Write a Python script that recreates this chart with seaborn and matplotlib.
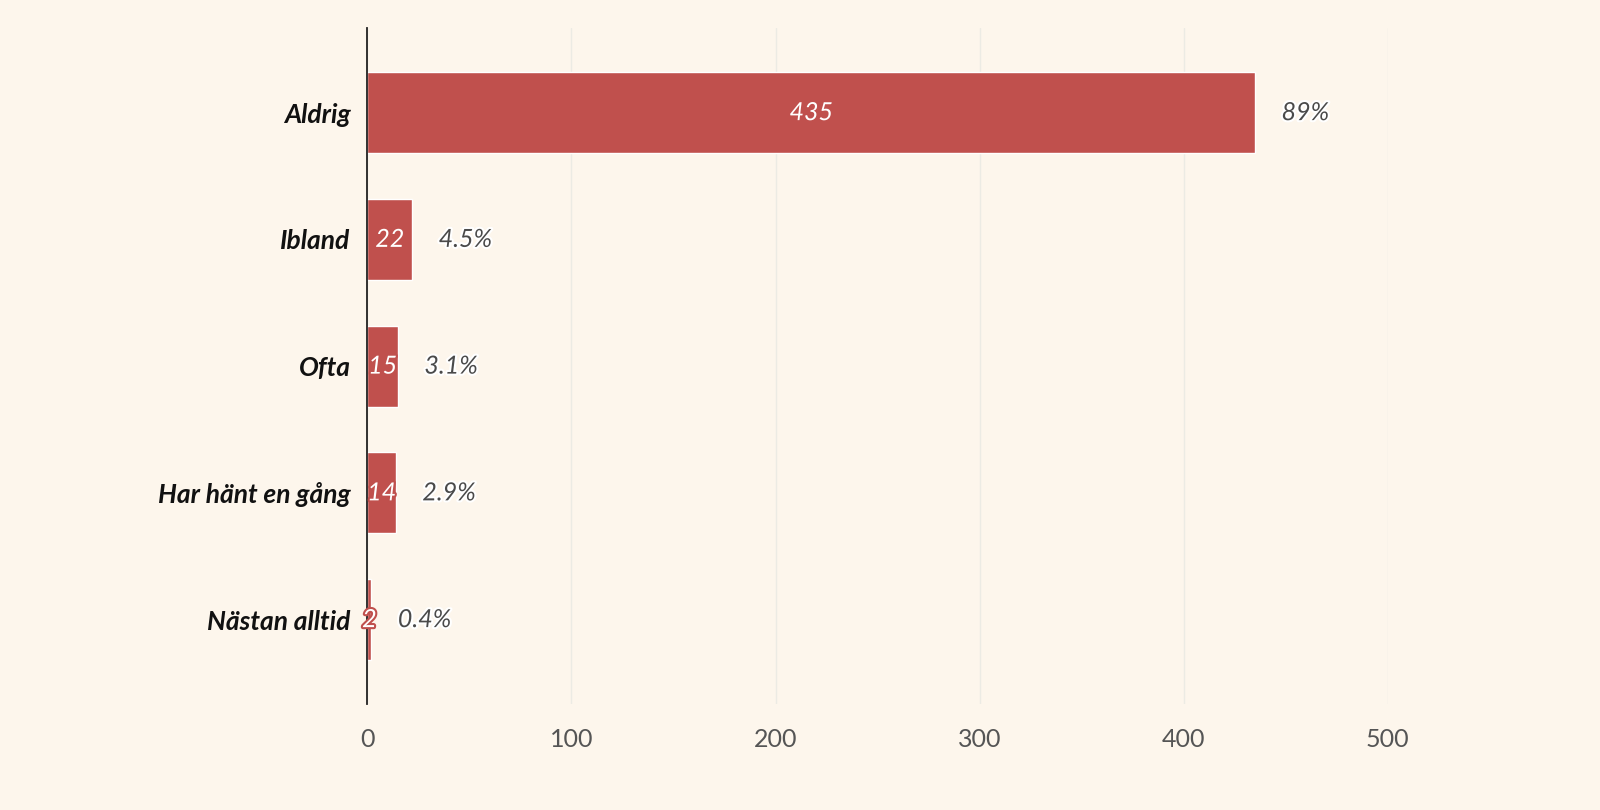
import numpy as np
import pandas as pd
import seaborn as sns
import matplotlib.pyplot as plt
import matplotlib.patheffects as pe

categories = ["Aldrig", "Ibland", "Ofta", "Har hänt en gång", "Nästan alltid"]
counts = [435, 22, 15, 14, 2]
pct_labels = ["89%", "4.5%", "3.1%", "2.9%", "0.4%"]

bg = "#FDF6EC"
bar_color = "#C0504D"

df = pd.DataFrame({"answer": categories, "count": counts})

sns.set_theme(style="white")
plt.rcParams['font.family'] = ['Lato', 'DejaVu Sans']

fig = plt.figure(figsize=(16, 8.1), dpi=100, facecolor=bg)
ax = fig.add_axes([0.2296, 0.131, 0.6378, 0.834])
ax.set_facecolor(bg)

sns.barplot(data=df, x="count", y="answer", color=bar_color, width=0.64,
            saturation=1, ax=ax, zorder=3)

ax.set_xlim(0, 500)
ax.set_ylim(len(categories) - 0.335, -0.665)
ax.set_xticks([0, 100, 200, 300, 400, 500])
ax.grid(axis="x", color="#ECEBE4", linewidth=1, zorder=0)
ax.set_xlabel("")
ax.set_ylabel("")
for s in ["top", "right", "bottom"]:
    ax.spines[s].set_visible(False)
ax.spines["left"].set_color("#222222")
ax.spines["left"].set_linewidth(1.3)
ax.spines["left"].set_zorder(5)
ax.tick_params(axis="both", length=0)
ax.tick_params(axis="x", labelsize=18, labelcolor="#555555", pad=17)
ax.tick_params(axis="y", pad=12)
for lab in ax.get_yticklabels():
    lab.set_fontsize(19)
    lab.set_fontweight("bold")
    lab.set_fontstyle("italic")
    lab.set_color("#111111")

for i, (v, p) in enumerate(zip(counts, pct_labels)):
    ax.text(v / 2, i, str(v), ha="center", va="center", fontsize=18,
            fontstyle="italic", color="white", zorder=6,
            path_effects=[pe.withStroke(linewidth=3, foreground=bar_color)])
    ax.annotate(p, xy=(v, i), xytext=(19, 0), textcoords="offset points",
                ha="left", va="center", fontsize=18, fontstyle="italic",
                color="#4A4A4A", zorder=6,
                path_effects=[pe.withStroke(linewidth=3, foreground="white")])

fig.savefig("out.png", dpi=100, facecolor=bg)
